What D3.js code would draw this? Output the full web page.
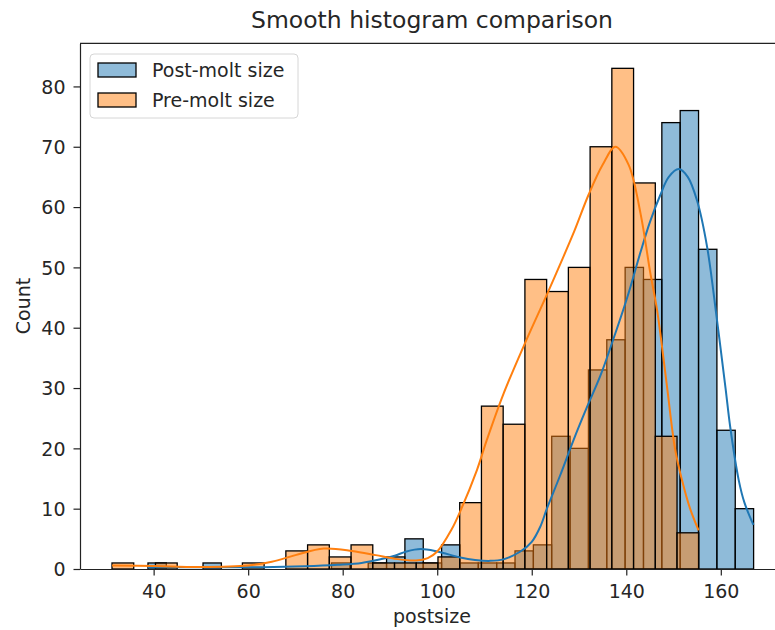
<!DOCTYPE html>
<html>
<head>
<meta charset="utf-8">
<script src="https://cdn.jsdelivr.net/npm/d3@7"></script>
<style>
  body { margin: 0; background: #fff; }
  svg text { font-family: "DejaVu Sans", sans-serif; fill: #262626; }
</style>
</head>
<body>
<div id="paper"></div>
<script>
// smooth histogram comparison, post-molt vs pre-molt size

let blue = "#1f77b4";
let orange = "#ff7f0e";

// histogram bins: first edge, bin width, counts per bin
const postStart = 38.8;
const postWidth = 3.883;
const postCounts = [1, 0, 0, 1, 0, 0, 0, 0, 0, 0, 1, 0, 1, 2, 5, 1, 4, 1, 1, 1, 3, 4,
  22, 20, 33, 38, 50, 48, 74, 76, 53, 23, 10];

const preStart = 31.19;
const preWidth = 4.598;
const preCounts = [1, 0, 1, 0, 0, 0, 1, 0, 3, 4, 2, 4, 1, 1, 1, 2, 11, 27, 24, 48, 46,
  50, 70, 83, 64, 22, 6];

// kde curves (value, count)
const postKdeX = [38.8, 50, 63, 72, 79, 84, 88, 91, 93.5, 96.5, 100, 104.9, 108, 111.2,
  114, 117.6, 120, 121.8, 123.2, 126, 128.9, 131.5, 134.5, 137, 140.2, 143, 145,
  147.2, 149, 151.1, 153, 155, 157.1, 159.2, 161, 162, 163.8, 165, 166.9];
const postKdeY = [0.3, 0.3, 0.3, 0.45, 0.7, 1.0, 1.6, 2.2, 2.9, 3.3, 2.9, 1.9, 1.5, 1.35,
  1.6, 2.9, 4.5, 7, 10, 15.5, 21.5, 26.5, 32, 37.5, 45, 52.5, 57.5,
  62, 65, 66.3, 65, 61, 53.4, 41.2, 30, 23.5, 14.7, 11, 7.3];

const preKdeX = [31.2, 40, 50, 60, 65, 70, 76, 82, 87, 91, 95.5, 98, 100, 103, 105, 108.4,
  110.5, 114, 118.6, 123.2, 126, 129, 132, 135, 137.7, 140.5, 143, 145.1, 146.5,
  148.5, 150.3, 151.8, 153.5, 155.3];
const preKdeY = [0.6, 0.5, 0.35, 0.6, 1.2, 2.3, 3.4, 3.0, 2.3, 1.7, 1.4, 1.8, 2.9, 6.5, 9.8, 16.4,
  21.4, 29, 37.5, 45.5, 50.5, 56, 62, 67, 70, 67, 59, 49, 43,
  31, 20, 14.7, 10, 6.4];

const xTicks = [40, 60, 80, 100, 120, 140, 160];
const yTicks = [0, 10, 20, 30, 40, 50, 60, 70, 80];
const seriesNames = ["Post-molt size", "Pre-molt size"];

const width = 775, height = 630;
const plotLeft = 80, plotTop = 43.3, plotBottom = 569, plotRight = 784;
const fontSize = "19px";

const svg = d3.select("#paper").append("svg")
  .attr("width", width).attr("height", height);

const x = d3.scaleLinear().domain([24.42, 173.37]).range([plotLeft, plotRight]);
const y = d3.scaleLinear().domain([0, 87.15]).range([plotBottom, plotTop]);

function bins(start, w, counts) {
  return counts.map((c, i) => ({ x0: start + i * w, x1: start + (i + 1) * w, c: c }))
    .filter((d) => d.c > 0);
}

function drawBars(data, colour) {
  svg.append("g")
    .selectAll("rect")
    .data(data)
    .join("rect")
    .attr("x", (d) => x(d.x0))
    .attr("y", (d) => y(d.c))
    .attr("width", (d) => x(d.x1) - x(d.x0))
    .attr("height", (d) => y(0) - y(d.c))
    .attr("fill", colour)
    .attr("fill-opacity", 0.5)
    .attr("stroke", "#000")
    .attr("stroke-width", 1.3);
}

drawBars(bins(postStart, postWidth, postCounts), blue);
drawBars(bins(preStart, preWidth, preCounts), orange);

const line = d3.line()
  .x((d) => x(d[0]))
  .y((d) => y(d[1]))
  .curve(d3.curveCatmullRom.alpha(0.5));

svg.append("path")
  .attr("d", line(d3.zip(postKdeX, postKdeY)))
  .attr("fill", "none").attr("stroke", blue).attr("stroke-width", 2);
svg.append("path")
  .attr("d", line(d3.zip(preKdeX, preKdeY)))
  .attr("fill", "none").attr("stroke", orange).attr("stroke-width", 2);

// axes
const xAxis = svg.append("g")
  .attr("transform", `translate(0,${plotBottom})`)
  .call(d3.axisBottom(x).tickValues(xTicks).tickSize(6.5).tickPadding(9).tickSizeOuter(0));
const yAxis = svg.append("g")
  .attr("transform", `translate(${plotLeft},0)`)
  .call(d3.axisLeft(y).tickValues(yTicks).tickSize(6.5).tickPadding(8).tickSizeOuter(0));

[xAxis, yAxis].forEach((g) => {
  g.select(".domain").attr("stroke", "#222").attr("stroke-width", 1.2);
  g.selectAll(".tick line").attr("stroke", "#222").attr("stroke-width", 1.2);
  g.selectAll(".tick text").style("font-size", fontSize)
    .style("font-family", "DejaVu Sans, sans-serif").attr("fill", "#262626");
});
yAxis.selectAll(".tick text").attr("dy", "0.36em");

// top spine
svg.append("line")
  .attr("x1", plotLeft).attr("x2", plotRight).attr("y1", plotTop).attr("y2", plotTop)
  .attr("stroke", "#222").attr("stroke-width", 1.2);

svg.append("text")
  .attr("x", 432).attr("y", 28)
  .attr("text-anchor", "middle")
  .style("font-size", "23.5px")
  .text("Smooth histogram comparison");

svg.append("text")
  .attr("x", 432).attr("y", 623)
  .attr("text-anchor", "middle")
  .style("font-size", fontSize)
  .text("postsize");

svg.append("text")
  .attr("transform", "translate(30,306) rotate(-90)")
  .attr("text-anchor", "middle")
  .style("font-size", fontSize)
  .text("Count");

// legend
const legend = svg.append("g");
legend.append("rect")
  .attr("x", 90).attr("y", 54).attr("width", 208).attr("height", 64)
  .attr("rx", 4)
  .attr("fill", "#fff").attr("fill-opacity", 0.8)
  .attr("stroke", "#d6d6d6").attr("stroke-width", 1);

legend.selectAll("rect.swatch")
  .data(seriesNames)
  .join("rect")
  .attr("class", "swatch")
  .attr("x", 98).attr("y", (d, i) => 63 + i * 30)
  .attr("width", 38).attr("height", 14)
  .attr("fill", (d, i) => [blue, orange][i])
  .attr("fill-opacity", 0.5)
  .attr("stroke", "#000").attr("stroke-width", 1.3);

legend.selectAll("text.label")
  .data(seriesNames)
  .join("text")
  .attr("class", "label")
  .attr("x", 152).attr("y", (d, i) => 77 + i * 30)
  .style("font-size", fontSize)
  .text((d) => d);
</script>
</body>
</html>
